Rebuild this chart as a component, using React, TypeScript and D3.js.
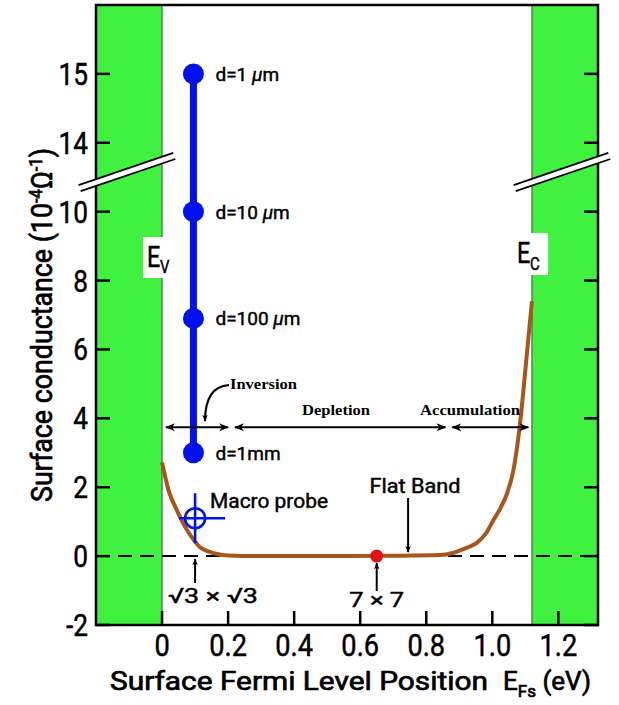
import React from 'react';
import * as d3 from 'd3';

// ---- data ----
const xTicks = [0, 0.2, 0.4, 0.6, 0.8, 1.0, 1.2];
const xTickLabels = ['0', '0.2', '0.4', '0.6', '0.8', '1.0', '1.2'];
const yTicks = [-2, 0, 2, 4, 6, 8, 10, 14, 15];
const yTickLabels = ['-2', '0', '2', '4', '6', '8', '10', '14', '15'];

const curveE = [0, 0.02, 0.045, 0.076, 0.1, 0.115, 0.14, 0.167, 0.2, 0.3, 0.5, 0.7, 0.84, 0.88, 0.903, 0.93, 0.955, 0.98, 1.003, 1.025, 1.045, 1.064, 1.085, 1.1, 1.115, 1.12];
const curveG = [2.72, 1.9, 1.33, 0.75, 0.42, 0.26, 0.14, 0.06, 0.02, 0.0, 0.0, 0.01, 0.03, 0.09, 0.17, 0.27, 0.4, 0.65, 1.04, 1.4, 1.83, 2.5, 3.94, 5.4, 6.9, 7.4];

const probeE = 0.095;
const probeG = [15, 10, 6.9, 3];
const probeLabels = ['d=1 \u03bcm', 'd=10 \u03bcm', 'd=100 \u03bcm', 'd=1mm'];

const macroE = 0.1;
const macroG = 1.1;
const sevenE = 0.65;
const sqrtE = 0.1;
const flatBandE = 0.745;
const gapE = 1.12;

const regionNames = ['Inversion', 'Depletion', 'Accumulation'];
const regionStart = [0.012, 0.221, 0.879];
const regionEnd = [0.2, 0.858, 1.109];
const regionG = 3.74;
const breakG = 11.15;

// ---- layout ----
const W = 619, H = 705;
const L = 96, R = 598, T = 5, B = 625;

const x = d3.scaleLinear().domain([-0.2, 1.32]).range([L, R]);
const yLin = d3.scaleLinear().domain([-2, 16]).range([B, T]);
const y = (v: number) => (v >= 14 ? yLin(12 + (v - 14) * 2) : yLin(v));

const GREEN = '#40f23f';
const BLUE = '#0010ee';
const BROWN = '#a8561c';
const SANS = 'Roboto, "Liberation Sans", sans-serif';
const SERIF = '"Liberation Serif", "Times New Roman", serif';

function CText({ x: tx, y: ty, sx = 0.82, size, anchor = 'start', children, weight = 'normal' }: any) {
  return (
    <text transform={`translate(${tx},${ty}) scale(${sx},1)`} fontSize={size} textAnchor={anchor}
      fontFamily={SANS} fontWeight={weight} fill="#000" stroke="#000" strokeWidth={0.5}>{children}</text>
  );
}

function BreakMark({ cx, cy }: { cx: number; cy: number }) {
  const half = 50;
  const slope = -0.34;
  const len = Math.sqrt(1 + slope * slope);
  const dx = half / len, dy = (half * slope) / len;
  const nx = -slope / len * 3.2, ny = 1 / len * 3.2;
  const p1 = [cx - dx, cy - dy], p2 = [cx + dx, cy + dy];
  const poly = [
    [p1[0] - nx, p1[1] - ny], [p2[0] - nx, p2[1] - ny],
    [p2[0] + nx, p2[1] + ny], [p1[0] + nx, p1[1] + ny],
  ].map((p) => p.join(',')).join(' ');
  return (
    <g>
      <polygon points={poly} fill="#fff" />
      <line x1={p1[0] - nx} y1={p1[1] - ny} x2={p2[0] - nx} y2={p2[1] - ny} stroke="#000" strokeWidth={1.8} />
      <line x1={p1[0] + nx} y1={p1[1] + ny} x2={p2[0] + nx} y2={p2[1] + ny} stroke="#000" strokeWidth={1.8} />
    </g>
  );
}

const med = { fontFamily: SANS, fill: '#000', stroke: '#000', strokeWidth: 0.45 } as any;

export default function App() {
  const line = d3.line<number>()
    .x((_, i) => x(curveE[i]))
    .y((d) => y(d))
    .curve(d3.curveMonotoneX);
  const curvePath = line(curveG) || '';

  const y0 = y(0);
  const tickLen = 14;
  const arrowY = y(regionG);

  return (
    <svg width={W} height={H} style={{ position: 'absolute', left: 0, top: 0, background: '#fff' }}>
      <defs>
        <marker id="ah" viewBox="0 0 10 10" refX="9" refY="5" markerWidth="7" markerHeight="7" orient="auto-start-reverse" markerUnits="userSpaceOnUse">
          <path d="M0,1 L10,5 L0,9 L3,5 Z" fill="#000" />
        </marker>
        <marker id="ah2" viewBox="0 0 10 10" refX="9" refY="5" markerWidth="10" markerHeight="10" orient="auto-start-reverse" markerUnits="userSpaceOnUse">
          <path d="M0,1 L10,5 L0,9 L3,5 Z" fill="#000" />
        </marker>
      </defs>
      <rect x={0} y={0} width={W} height={H} fill="#fff" />

      {/* green band regions */}
      <rect x={L} y={T} width={x(0) - L} height={B - T} fill={GREEN} />
      <rect x={x(gapE)} y={T} width={R - x(gapE)} height={B - T} fill={GREEN} />
      <line x1={x(0)} y1={T} x2={x(0)} y2={B} stroke="#444" strokeWidth={1} />
      <line x1={x(gapE)} y1={T} x2={x(gapE)} y2={B} stroke="#444" strokeWidth={1} />

      {/* zero dashed line */}
      <line x1={L} y1={y0} x2={R} y2={y0} stroke="#000" strokeWidth={2} strokeDasharray="14 8" />

      {/* ticks */}
      {yTicks.map((t) => (
        <g key={'yt' + t}>
          <line x1={L} x2={L + tickLen} y1={y(t)} y2={y(t)} stroke="#000" strokeWidth={2.5} />
          <line x1={R} x2={R - tickLen} y1={y(t)} y2={y(t)} stroke="#000" strokeWidth={2.5} />
        </g>
      ))}
      {xTicks.map((t) => (
        <line key={'xt' + t} x1={x(t)} x2={x(t)} y1={B} y2={B - tickLen} stroke="#000" strokeWidth={2.5} />
      ))}

      {/* frame */}
      <rect x={L} y={T} width={R - L} height={B - T} fill="none" stroke="#000" strokeWidth={2.5} />

      {/* tick labels */}
      {yTicks.map((t, i) => (
        <CText key={'yl' + t} x={L - 8} y={y(t) + 11} size={32} anchor="end">{yTickLabels[i]}</CText>
      ))}
      {xTicks.map((t, i) => (
        <CText key={'xl' + t} x={x(t)} y={656} size={32} sx={0.85} anchor="middle">{xTickLabels[i]}</CText>
      ))}

      {/* axis titles */}
      <text transform="translate(52,325) rotate(-90)" fontSize={29} {...med} strokeWidth={0.7}
        textAnchor="middle" textLength={354} lengthAdjust="spacingAndGlyphs">
        Surface conductance (10<tspan dy={-10} fontSize={18}>-4</tspan><tspan dy={10}>Ω</tspan><tspan dy={-10} fontSize={18}>-1</tspan><tspan dy={10}>)</tspan>
      </text>
      <text x={110} y={690} fontSize={26} {...med} strokeWidth={0.7} textLength={378} lengthAdjust="spacingAndGlyphs">
        Surface Fermi Level Position
      </text>
      <text x={503} y={690} fontSize={26} {...med} strokeWidth={0.7}>
        <tspan>E</tspan><tspan dy={7} fontSize={17}>Fs</tspan><tspan dy={-7}> (eV)</tspan>
      </text>

      {/* E_V and E_C labels */}
      <rect x={143} y={237} width={34} height={41} fill="#fff" />
      <CText x={147} y={267} size={30} sx={0.78}>E</CText>
      <CText x={160} y={273} size={19} sx={0.78}>V</CText>
      <rect x={513} y={233} width={35} height={42} fill="#fff" />
      <CText x={517} y={263} size={30} sx={0.78}>E</CText>
      <CText x={530} y={270} size={19} sx={0.78}>C</CText>

      {/* brown curve */}
      <path d={curvePath} fill="none" stroke={BROWN} strokeWidth={4} />

      {/* probe depth line */}
      <line x1={x(probeE)} x2={x(probeE)} y1={y(probeG[0])} y2={y(probeG[probeG.length - 1])} stroke={BLUE} strokeWidth={7} />
      {probeG.map((g, i) => {
        const parts = probeLabels[i].split('\u03bc');
        return (
          <g key={'p' + i}>
            <circle cx={x(probeE)} cy={y(g)} r={10.5} fill={BLUE} />
            <text x={x(probeE) + 22} y={y(g) + 7} fontSize={19} {...med}>
              {parts[0]}
              {parts.length > 1 && <tspan fontStyle="italic">{'\u03bc'}</tspan>}
              {parts.length > 1 && <tspan>{parts[1]}</tspan>}
            </text>
          </g>
        );
      })}

      {/* macro probe */}
      <g stroke={BLUE} strokeWidth={2.6} fill="none">
        <circle cx={x(macroE)} cy={y(macroG)} r={10} />
        <line x1={x(macroE) - 16} x2={x(macroE) + 30} y1={y(macroG)} y2={y(macroG)} />
        <line x1={x(macroE)} x2={x(macroE)} y1={y(macroG) - 25} y2={y(macroG) + 25} />
      </g>
      <text x={210} y={508} fontSize={20} {...med} textLength={118} lengthAdjust="spacingAndGlyphs">Macro probe</text>

      {/* red 7x7 point */}
      <circle cx={x(sevenE)} cy={y0} r={6.5} fill="#e01414" />

      {/* annotation arrows */}
      <line x1={x(sqrtE)} x2={x(sqrtE)} y1={583} y2={y0 + 3} stroke="#000" strokeWidth={2} markerEnd="url(#ah)" />
      <text x={168} y={603} fontSize={21} {...med} textLength={90} lengthAdjust="spacingAndGlyphs">√3 × √3</text>
      <line x1={x(sevenE)} x2={x(sevenE)} y1={591} y2={y0 + 7} stroke="#000" strokeWidth={2} markerEnd="url(#ah)" />
      <text x={x(sevenE)} y={607} fontSize={21} {...med} textAnchor="middle" textLength={55} lengthAdjust="spacingAndGlyphs">7 × 7</text>
      <line x1={x(flatBandE)} x2={x(flatBandE)} y1={498} y2={y0 - 4} stroke="#000" strokeWidth={2} markerEnd="url(#ah)" />
      <text x={415} y={493} fontSize={20} {...med} textAnchor="middle" textLength={91} lengthAdjust="spacingAndGlyphs">Flat Band</text>

      {/* region arrows */}
      {regionNames.map((n, i) => (
        <line key={'ra' + i} x1={x(regionStart[i])} x2={x(regionEnd[i])} y1={arrowY} y2={arrowY}
          stroke="#000" strokeWidth={2} markerStart="url(#ah2)" markerEnd="url(#ah2)" />
      ))}
      <text x={230} y={389} fontSize={14.5} fontFamily={SERIF} fontWeight="bold" textLength={67} lengthAdjust="spacingAndGlyphs">{regionNames[0]}</text>
      <text x={336} y={415} fontSize={14.5} fontFamily={SERIF} fontWeight="bold" textAnchor="middle" textLength={68} lengthAdjust="spacingAndGlyphs">{regionNames[1]}</text>
      <text x={470} y={415} fontSize={14.5} fontFamily={SERIF} fontWeight="bold" textAnchor="middle" textLength={100} lengthAdjust="spacingAndGlyphs">{regionNames[2]}</text>
      <path d="M229,385 C214,386 205,396 205,421" fill="none" stroke="#000" strokeWidth={2.2} markerEnd="url(#ah)" />

      {/* axis break marks */}
      <BreakMark cx={L + 31} cy={y(breakG)} />
      <BreakMark cx={R - 36} cy={y(breakG)} />
    </svg>
  );
}
